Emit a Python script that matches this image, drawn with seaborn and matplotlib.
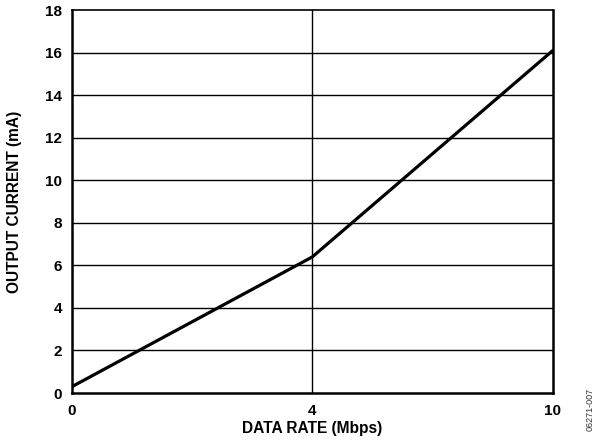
import matplotlib
matplotlib.use("Agg")
import matplotlib.pyplot as plt
import seaborn as sns
import pandas as pd

# Supply current versus data rate
data_rate = ["0", "4", "10"]          # Mbps, evenly spaced categories
output_current = [0.3, 6.4, 16.1]     # mA
y_ticks = [0, 2, 4, 6, 8, 10, 12, 14, 16, 18]

df = pd.DataFrame({"rate": data_rate, "current": output_current})

sns.set_style("white")
plt.rcParams["font.family"] = ["Liberation Sans", "DejaVu Sans"]
plt.rcParams["font.weight"] = "bold"
plt.rcParams["text.color"] = "black"
plt.rcParams["axes.labelcolor"] = "black"
plt.rcParams["xtick.color"] = "black"
plt.rcParams["ytick.color"] = "black"

fig = plt.figure(figsize=(5.97, 4.40), dpi=100)
ax = fig.add_axes([0.1206, 0.1068, 0.805, 0.8698])

# grid: horizontal lines every 2 mA, one vertical at 4 Mbps
for yv in y_ticks[1:-1]:
    ax.axhline(yv, color="black", lw=1.0, zorder=1)
ax.axvline(1, color="black", lw=1.0, zorder=1)

sns.lineplot(data=df, x="rate", y="current", sort=False, color="black",
             lw=2.3, ax=ax, zorder=3)

ax.set_xlim(0, 2)
ax.set_ylim(0, 18)
ax.set_xticks([0, 1, 2])
ax.set_xticklabels(data_rate)
ax.set_yticks(y_ticks)
ax.tick_params(axis="both", length=0, labelsize=11, colors="black")
ax.tick_params(axis="y", pad=7)
ax.tick_params(axis="x", pad=8)
for lab in ax.get_xticklabels() + ax.get_yticklabels():
    lab.set_fontweight("bold")

for name, sp in ax.spines.items():
    sp.set_visible(True)
    sp.set_color("black")
    sp.set_linewidth(1.2 if name == "top" else 1.8)

ax.set_xlabel("DATA RATE (Mbps)", fontsize=11.2, fontweight="bold",
              labelpad=2, color="black")
ax.set_ylabel("OUTPUT CURRENT (mA)", fontsize=11.2, fontweight="bold",
              labelpad=17, color="black")

fig.text(0.988, 0.07, "06271-007", rotation=90, fontsize=6.5,
         color="#333333", ha="center", va="center", fontweight="normal")

fig.savefig("out.png", dpi=100)
